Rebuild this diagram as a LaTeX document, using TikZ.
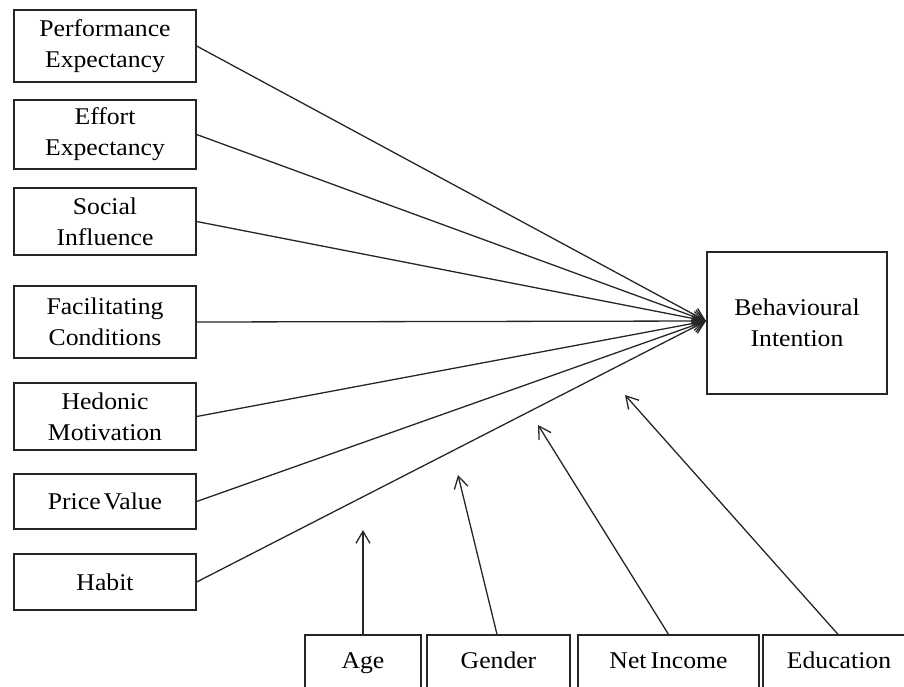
\documentclass[tikz,border=0pt]{standalone}
\usepackage{fontspec}
\setmainfont{Liberation Serif}[FakeStretch=1.07]
\usetikzlibrary{arrows.meta}
\begin{document}
\begin{tikzpicture}[x=1pt,y=-1pt,
  box/.style={draw=black!85, line width=1.3pt, rectangle, inner sep=0pt,
    align=center, font=\fontsize{24}{31}\selectfont},
  leftbox/.style={box, minimum width=182pt},
  basebox/.style={box, minimum height=56pt, text height=17pt, text depth=6pt},
  link/.style={line width=1.3pt, draw=black!85, -{Straight Barb[length=12pt,width=14pt,line width=1.3pt]}}]
\useasboundingbox (0,0) rectangle (904,686);
\clip (0,0) rectangle (904,686);

% constructs on the left
\node[leftbox, minimum height=72pt] (pe) at (105,46)    {Performance\\Expectancy};
\node[leftbox, minimum height=69pt] (ee) at (105,134.5) {Effort\\Expectancy};
\node[leftbox, minimum height=67pt] (si) at (105,221.5) {Social\\Influence};
\node[leftbox, minimum height=72pt] (fc) at (105,322)   {Facilitating\\Conditions};
\node[leftbox, minimum height=67pt] (hm) at (105,416.5) {Hedonic\\Motivation};
\node[leftbox, minimum height=55pt] (pv) at (105,501.5) {Price\hspace{3pt}Value};
\node[leftbox, minimum height=56pt] (hb) at (105,582)   {Habit};

% outcome
\node[box, minimum width=180pt, minimum height=142pt] (bi) at (797,323) {Behavioural\\Intention};
\coordinate (meet) at (706,321);

% moderators along the bottom
\node[basebox, minimum width=116pt] (age) at (363,663)   {Age};
\node[basebox, minimum width=143pt] (gen) at (498.5,663) {Gender};
\node[basebox, minimum width=181pt] (inc) at (668.5,663) {Net\hspace{4pt}Income};
\node[basebox, minimum width=176pt] (edu) at (851,663)   {\hspace*{-24pt}Education};

\coordinate (tAge) at (363,530);
\coordinate (tGen) at (458,475);
\coordinate (tInc) at (538,425);
\coordinate (tEdu) at (625,395);

% paths into behavioural intention
\foreach \n in {pe,ee,si,fc,hm,pv,hb}
  \draw[link] (\n.east) -- (meet);

% moderating arrows
\draw[link] (age.north) -- (tAge);
\draw[link] ([xshift=-1.5pt]gen.north) -- (tGen);
\draw[link] (inc.north) -- (tInc);
\draw[link] ([xshift=-13pt]edu.north) -- (tEdu);
\end{tikzpicture}
\end{document}
